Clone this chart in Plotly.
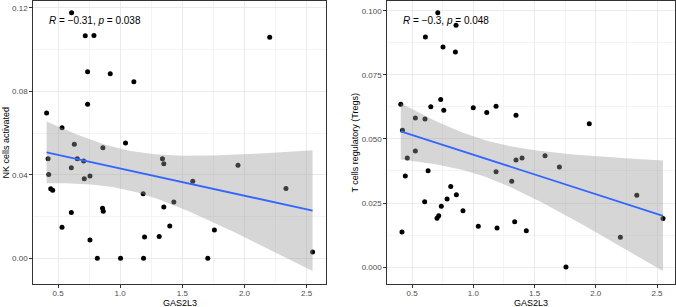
import numpy as np
import plotly.graph_objects as go

# ---- data ----
nk_x = [0.609, 0.719, 0.789, 2.203, 0.738, 0.920, 1.110, 0.738, 0.408, 0.532,
        0.631, 0.861, 1.043, 0.420, 0.655, 0.706, 0.425, 0.607, 0.711, 0.757,
        1.340, 1.351, 1.584, 2.334, 1.948, 0.441, 0.457, 1.185, 1.432, 1.351,
        0.858, 0.864, 0.607, 0.532, 1.399, 1.758, 0.757, 1.196, 1.314, 0.816,
        1.003, 1.188, 1.705, 2.548]
nk_y = [0.1177, 0.1066, 0.1068, 0.1059, 0.0894, 0.0884, 0.0846, 0.0738, 0.0696, 0.0626,
        0.0546, 0.0530, 0.0552, 0.0477, 0.0477, 0.0466, 0.0402, 0.0434, 0.0381, 0.0394,
        0.0477, 0.0453, 0.0369, 0.0335, 0.0446, 0.0333, 0.0326, 0.0309, 0.0270, 0.0246,
        0.0240, 0.0225, 0.0219, 0.0149, 0.0155, 0.0136, 0.0088, 0.0102, 0.0105, 0.0,
        0.0, 0.0, 0.0, 0.0030]

tr_x = [0.710, 0.859, 0.609, 0.753, 0.854, 0.408, 0.734, 0.653, 0.759, 1.000,
        1.110, 1.186, 1.349, 1.947, 0.527, 0.606, 0.422, 0.461, 0.527, 0.445,
        0.631, 0.603, 0.816, 0.862, 0.786, 0.739, 0.718, 0.704, 0.916, 0.418,
        1.041, 1.194, 1.338, 1.433, 1.186, 1.314, 1.349, 1.398, 1.586, 1.703,
        1.757, 2.201, 2.335, 2.549]
tr_y = [0.0993, 0.0944, 0.0898, 0.0859, 0.0840, 0.0636, 0.0654, 0.0626, 0.0612, 0.0622,
        0.0603, 0.0628, 0.0593, 0.0560, 0.0582, 0.0578, 0.0534, 0.0426, 0.0453, 0.0355,
        0.0376, 0.0255, 0.0314, 0.0282, 0.0266, 0.0237, 0.0200, 0.0190, 0.0220, 0.0137,
        0.0159, 0.0152, 0.0177, 0.0142, 0.0372, 0.0335, 0.0418, 0.0426, 0.0435, 0.0391,
        0.0, 0.0116, 0.0280, 0.0189]

x_ticks = [0.5, 1.0, 1.5, 2.0, 2.5]
nk_ticks = [0.00, 0.04, 0.08, 0.12]
tr_ticks = [0.000, 0.025, 0.050, 0.075, 0.100]

nk_label = "<i>R</i> = \u22120.31, <i>p</i> = 0.038"
tr_label = "<i>R</i> = \u22120.3, <i>p</i> = 0.048"
T_CRIT = 2.018  # t(0.975, df=42)


def lm_fit(x, y):
    x = np.asarray(x, float)
    y = np.asarray(y, float)
    n = len(x)
    b, a = np.polyfit(x, y, 1)
    resid = y - (a + b * x)
    s = np.sqrt(np.sum(resid ** 2) / (n - 2))
    xm = x.mean()
    sxx = np.sum((x - xm) ** 2)
    xs = np.linspace(x.min(), x.max(), 80)
    fit = a + b * xs
    se = s * np.sqrt(1.0 / n + (xs - xm) ** 2 / sxx)
    return xs, fit, fit - T_CRIT * se, fit + T_CRIT * se


fig = go.Figure()

for (x, y, xa, ya) in [(nk_x, nk_y, "x", "y"), (tr_x, tr_y, "x2", "y2")]:
    fig.add_trace(go.Scatter(x=x, y=y, mode="markers", xaxis=xa, yaxis=ya,
                             marker=dict(color="black", size=5), showlegend=False,
                             hoverinfo="skip"))
    xs, fit, lo, hi = lm_fit(x, y)
    fig.add_trace(go.Scatter(x=np.concatenate([xs, xs[::-1]]),
                             y=np.concatenate([hi, lo[::-1]]),
                             fill="toself", fillcolor="rgba(153,153,153,0.4)",
                             line=dict(width=0), mode="lines", xaxis=xa, yaxis=ya,
                             showlegend=False, hoverinfo="skip"))
    fig.add_trace(go.Scatter(x=xs, y=fit, mode="lines", xaxis=xa, yaxis=ya,
                             line=dict(color="#3366FF", width=1.8),
                             showlegend=False, hoverinfo="skip"))

W, H = 676, 307
ax_common = dict(showgrid=True, gridcolor="#ebebeb", gridwidth=1, zeroline=False,
                 showline=True, linecolor="#333333", linewidth=1, mirror=True,
                 ticks="outside", ticklen=3, tickcolor="#333333", tickwidth=1,
                 tickfont=dict(family="Liberation Sans, Arial", size=8, color="#4d4d4d"))
x_extra = dict(ticklabelstandoff=-2)

fig.update_layout(
    width=W, height=H, margin=dict(l=0, r=0, t=0, b=0),
    paper_bgcolor="white", plot_bgcolor="white",
    xaxis=dict(domain=[33.3 / W, 326 / W], range=[0.301, 2.656], anchor="y",
               tickvals=x_ticks, ticktext=[f"{v:.1f}" for v in x_ticks],
               minor=dict(dtick=0.25, tick0=0.25, showgrid=True, gridcolor="#f4f4f4",
                          gridwidth=0.6, ticks=""), **ax_common, **x_extra),
    yaxis=dict(domain=[1 - 284.3 / H, 1 - 1 / H], range=[-0.01245, 0.1233], anchor="x",
               tickvals=nk_ticks, ticktext=[f"{v:.2f}" for v in nk_ticks],
               minor=dict(dtick=0.02, tick0=0.02, showgrid=True, gridcolor="#f4f4f4",
                          gridwidth=0.6, ticks=""), **ax_common),
    xaxis2=dict(domain=[387.3 / W, 675 / W], range=[0.298, 2.647], anchor="y2",
                tickvals=x_ticks, ticktext=[f"{v:.1f}" for v in x_ticks],
                minor=dict(dtick=0.25, tick0=0.25, showgrid=True, gridcolor="#f4f4f4",
                           gridwidth=0.6, ticks=""), **ax_common, **x_extra),
    yaxis2=dict(domain=[1 - 284 / H, 1 - 1 / H], range=[-0.00664, 0.1039], anchor="x2",
                tickvals=tr_ticks, ticktext=[f"{v:.3f}" for v in tr_ticks],
                minor=dict(dtick=0.0125, tick0=0.0125, showgrid=True, gridcolor="#f4f4f4",
                           gridwidth=0.6, ticks=""), **ax_common),
)

font_t = dict(family="Liberation Sans, Arial", size=9, color="black")
font_a = dict(family="Liberation Sans, Arial", size=10, color="black")
ann = [
    dict(text=nk_label, x=46.7 / W, y=1 - 20 / H, xanchor="left", yanchor="middle", font=font_a),
    dict(text=tr_label, x=401 / W, y=1 - 20 / H, xanchor="left", yanchor="middle", font=font_a),
    dict(text="GAS2L3", x=(33.3 + 326) / 2 / W, y=1 - 303 / H, xanchor="center", yanchor="middle", font=font_t),
    dict(text="GAS2L3", x=(387.3 + 675) / 2 / W, y=1 - 303 / H, xanchor="center", yanchor="middle", font=font_t),
    dict(text="NK cells activated", x=5 / W, y=1 - 142.5 / H, textangle=-90, xanchor="center", yanchor="middle", font=font_t),
    dict(text="T cells regulatory (Tregs)", x=354 / W, y=1 - 142.5 / H, textangle=-90, xanchor="center", yanchor="middle", font=font_t),
]
for a in ann:
    a.update(xref="paper", yref="paper", showarrow=False)
fig.update_layout(annotations=ann)

fig.write_html("out.html", config={"displayModeBar": False},
               post_script="document.body.style.margin='0px';document.body.style.overflow='hidden';")
